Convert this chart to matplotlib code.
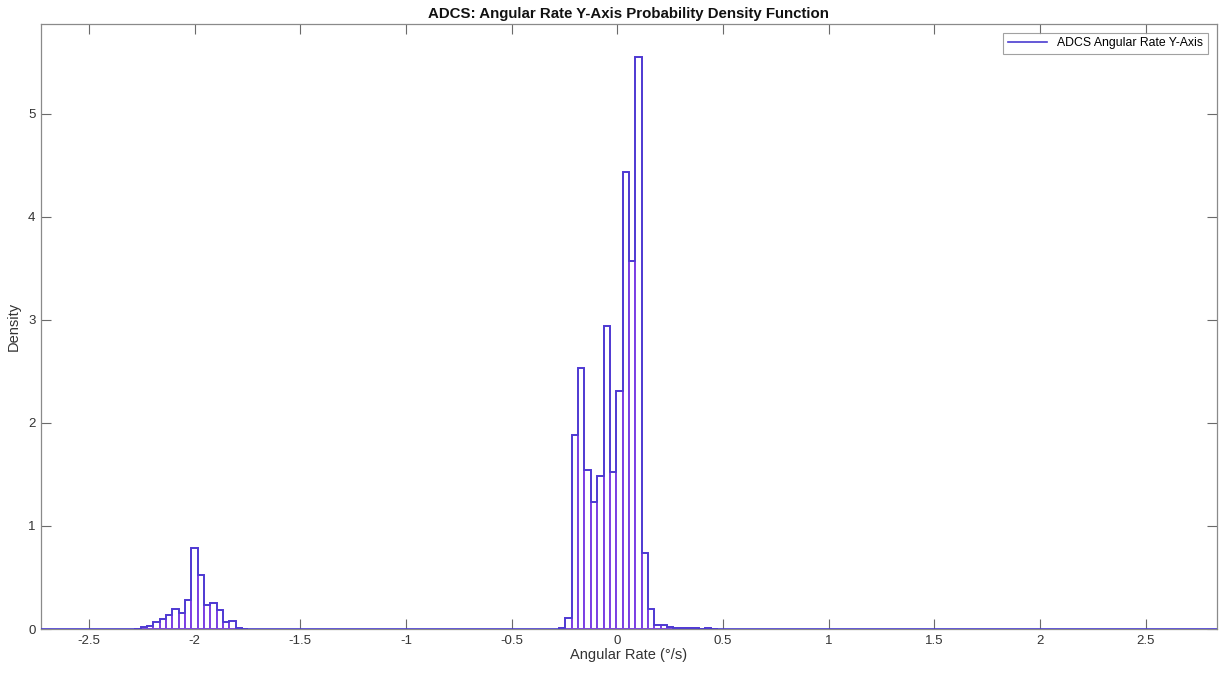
import numpy as np
import matplotlib.pyplot as plt

plt.rcParams['font.family'] = ['Liberation Sans', 'DejaVu Sans']

# histogram grid (bin width 0.03)
bin_width = 0.03

# left cluster near -2 deg/s, first bin starts at -2.285
left_start = -2.285
left_density = [0.005, 0.02, 0.025, 0.068, 0.097, 0.136, 0.197, 0.155, 0.284,
                0.79, 0.52, 0.236, 0.25, 0.18, 0.068, 0.081, 0.012, 0.005]

# main cluster near 0 deg/s, first bin starts at -0.275
main_start = -0.275
main_density = [0.01, 0.11, 1.88, 2.53, 1.54, 1.23, 1.48, 2.94, 1.52, 2.31, 4.43,
                 3.57, 5.55, 0.74, 0.19, 0.035, 0.035, 0.015, 0.01, 0.008, 0.012,
                 0.006, 0.004, 0.008, 0.005]

x_min, x_max = -2.727, 2.836
xticks = [-2.5, -2, -1.5, -1, -0.5, 0, 0.5, 1, 1.5, 2, 2.5]
yticks = [0, 1, 2, 3, 4, 5]

fig = plt.figure(figsize=(12.19, 6.75), dpi=100)
ax = fig.add_axes([0.0336, 0.0681, 0.9644, 0.8963])

bar_edge = '#7b3fe4'
line_col = '#4a3cd0'

for start, dens in [(left_start, left_density), (main_start, main_density)]:
    dens = np.array(dens)
    centers = start + bin_width * (np.arange(len(dens)) + 0.5)
    ax.bar(centers, dens, width=bin_width, facecolor='white',
           edgecolor=bar_edge, linewidth=1.4, zorder=2)

# full-range density line (zero outside the clusters)
n_left = int(round((left_start - x_min) / bin_width))
edges = left_start + bin_width * np.arange(-n_left, int((x_max - left_start) / bin_width) + 2)
full = np.zeros(len(edges) - 1)
i0 = n_left
full[i0:i0 + len(left_density)] = left_density
j0 = i0 + int(round((main_start - left_start) / bin_width))
full[j0:j0 + len(main_density)] = main_density
ax.stairs(full, edges, color=line_col, linewidth=1.2, zorder=3,
          label='ADCS Angular Rate Y-Axis')

ax.set_xlim(x_min, x_max)
ax.set_ylim(0, 5.87)
ax.set_xticks(xticks)
ax.set_xticklabels([f'{t:g}' for t in xticks])
ax.set_yticks(yticks)

for s in ax.spines.values():
    s.set_color('#8a8a8a')
    s.set_linewidth(0.9)
ax.tick_params(direction='in', length=7, width=0.8, color='#6a6a6a',
               labelsize=9.5, labelcolor='#333333', top=True, right=True, pad=4)

ax.set_xlabel('Angular Rate (°/s)', fontsize=10.5, color='#333333', labelpad=1)
ax.set_ylabel('Density', fontsize=10.5, color='#333333', labelpad=5)
ax.set_title('ADCS: Angular Rate Y-Axis Probability Density Function',
             fontsize=10.8, fontweight='bold', color='#111111', pad=4)

leg = ax.legend(loc='upper right', fontsize=8.8, frameon=True, fancybox=False,
                borderaxespad=0.7, handlelength=3.2, borderpad=0.4)
leg.get_frame().set_edgecolor('#8a8a8a')
leg.get_frame().set_linewidth(0.8)

fig.savefig('out.png', dpi=100)
